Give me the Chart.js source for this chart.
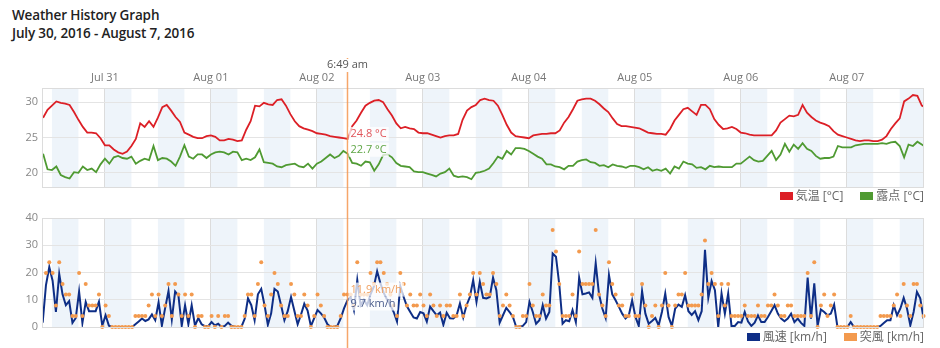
<!DOCTYPE html>
<html>
<head>
<meta charset="utf-8">
<script src="https://cdn.jsdelivr.net/npm/chart.js@4.4.1/dist/chart.umd.min.js"></script>
<style>
  body { margin: 0; width: 940px; height: 348px; overflow: hidden; background: #fff; position: relative;
         font-family: "Open Sans", "Noto Sans CJK JP", sans-serif; }
  .title { position: absolute; left: 12px; font-size: 13.5px; letter-spacing: -0.15px; font-weight: 600; line-height: 18px; color: #222; }
  #tempWrap { position: absolute; left: 0; top: 50px; width: 940px; height: 155px; }
  #windWrap { position: absolute; left: 0; top: 205px; width: 940px; height: 143px; }
  .legend { position: absolute; right: 16px; display: flex; font-size: 12px; color: #666; line-height: 14px; }
  .legend-item { display: flex; align-items: center; margin-left: 17px; }
  .legend-box { width: 13px; height: 8px; margin-right: 3px; }
</style>
</head>
<body>
<div class="title" style="top:6px">Weather History Graph</div>
<div class="title" style="top:24px">July 30, 2016 - August 7, 2016</div>
<div id="tempWrap"><canvas id="tempChart" width="940" height="155"></canvas></div>
<div id="windWrap"><canvas id="windChart" width="940" height="143"></canvas></div>
<div class="legend" id="tempLegend" style="top:189px"></div>
<div class="legend" id="windLegend" style="top:330px"></div>

<script>
// time axis: hours since Jul 30 00:00
const xMin = 9.75;
const xMax = 209.5;
const dayTicks = [24, 48, 72, 96, 120, 144, 168, 192];
const dayLabels = ["Jul 31", "Aug 01", "Aug 02", "Aug 03", "Aug 04", "Aug 05", "Aug 06", "Aug 07"];

const tempTicks = [20, 25, 30];
const windTicks = [0, 10, 20, 30, 40];

// hovered moment (Aug 02, 6:49 am)
const crossHour = 78.82;
const crossLabel = "6:49 am";

// temperature / dew point, hourly from hour 10
const tempStartHour = 10;
const tempStepHours = 1;
const temperature = [
  27.8, 28.9, 29.5, 30.1, 29.9, 29.8, 29.6, 28.6, 27.5, 26.5,
  25.7, 25.7, 25.6, 24.9, 23.9, 23.9, 23.3, 22.9, 22.7, 23.0,
  23.8, 24.8, 27.0, 26.5, 27.3, 26.5, 27.8, 29.3, 29.6, 28.8,
  27.9, 27.2, 25.7, 25.4, 25.1, 24.9, 24.9, 25.2, 25.3, 25.1,
  24.6, 24.6, 24.8, 24.7, 24.5, 24.6, 26.1, 27.3, 29.5, 29.4,
  29.9, 29.7, 29.6, 30.3, 30.4, 29.5, 28.3, 27.3, 26.6, 26.3,
  26.1, 25.9, 25.6, 25.5, 25.4, 25.2, 25.1, 25.0, 24.9, 24.8,
  26.6, 27.4, 28.5, 29.5, 29.9, 30.2, 30.3, 30.0, 29.0, 28.1,
  27.0, 26.3, 26.5, 26.3, 26.2, 25.7, 25.6, 25.6, 25.4, 25.2,
  25.0, 25.2, 25.3, 25.3, 25.5, 27.5, 28.8, 29.3, 29.6, 30.3,
  30.5, 30.3, 30.2, 29.5, 28.2, 26.8, 25.7, 25.2, 25.1, 25.0,
  24.9, 25.3, 25.4, 25.5, 25.5, 25.6, 25.6, 26.0, 27.1, 27.9,
  29.0, 30.2, 30.4, 30.5, 30.5, 30.2, 29.7, 29.1, 28.6, 27.7,
  26.9, 26.6, 26.6, 26.5, 26.4, 26.3, 26.0, 25.7, 25.6, 25.5,
  25.5, 25.4, 26.2, 27.4, 28.2, 29.0, 29.2, 28.7, 28.2, 29.6,
  29.6, 29.0, 27.6, 26.8, 26.2, 26.3, 26.5, 26.2, 25.7, 25.6,
  25.4, 25.3, 25.3, 25.3, 25.3, 25.3, 26.0, 27.1, 27.6, 28.1,
  28.0, 28.2, 29.6, 28.5, 27.9, 27.4, 27.1, 26.9, 26.6, 25.9,
  25.4, 25.2, 25.0, 24.8, 24.6, 24.5, 24.6, 24.6, 24.5, 24.5,
  24.7, 25.2, 26.2, 27.0, 27.7, 30.1, 30.5, 31.0, 30.9, 29.5,
  29.2
];
const dewPoint = [
  22.7, 20.5, 20.4, 20.9, 19.7, 19.4, 19.2, 20.1, 20.0, 20.9,
  20.4, 20.6, 20.1, 21.2, 22.0, 21.3, 22.2, 22.4, 22.1, 22.0,
  22.3, 21.3, 21.7, 22.0, 21.8, 23.8, 21.8, 22.1, 22.0, 21.6,
  21.0, 22.3, 23.9, 22.3, 22.0, 22.6, 22.6, 22.1, 22.6, 22.9,
  23.0, 22.9, 22.6, 23.0, 22.9, 21.8, 22.0, 21.8, 22.2, 23.3,
  21.5, 21.4, 21.3, 20.9, 20.8, 21.1, 21.2, 21.3, 20.9, 20.8,
  21.3, 20.6, 21.3, 21.6, 22.1, 22.6, 22.1, 22.4, 23.1, 22.7,
  21.4, 21.3, 21.0, 21.6, 21.5, 20.3, 21.2, 22.5, 22.6, 22.2,
  21.4, 21.0, 20.9, 20.8, 20.2, 20.1, 20.1, 19.9, 19.7, 19.5,
  19.9, 20.1, 20.6, 19.6, 19.4, 19.5, 19.4, 19.1, 20.0, 20.1,
  20.3, 20.6, 21.4, 22.3, 22.0, 23.1, 22.6, 23.5, 23.5, 23.4,
  23.1, 22.7, 22.3, 22.0, 21.2, 21.2, 20.9, 20.8, 20.5, 21.0,
  21.0, 21.6, 21.8, 21.9, 21.5, 21.4, 21.0, 21.1, 20.8, 21.2,
  21.0, 20.9, 20.7, 21.0, 21.0, 20.8, 20.5, 20.8, 20.3, 20.5,
  20.3, 20.6, 19.9, 20.9, 20.6, 21.6, 21.3, 21.2, 20.7, 20.8,
  20.5, 21.0, 20.8, 20.9, 20.8, 20.8, 20.8, 21.3, 21.3, 21.8,
  22.3, 21.8, 21.6, 21.7, 22.4, 23.1, 21.8, 22.6, 24.1, 23.0,
  24.0, 23.4, 24.2, 23.4, 23.1, 22.4, 22.0, 22.1, 22.1, 22.3,
  23.8, 23.6, 23.6, 23.6, 23.9, 24.0, 24.1, 24.1, 24.1, 24.1,
  24.2, 24.1, 24.3, 24.4, 23.8, 22.2, 24.0, 23.8, 24.4, 24.0,
  23.6
];

// wind speed / gust, every 45 minutes from hour 9.9
const windStartHour = 9.9;
const windStepHours = 0.75;
const windSpeed = [
  1.6, 15.4, 22.0, 17.0, 5.5, 19.5, 12.0, 8.0, 9.5, 1.5,
  3.3, 13.0, 1.5, 9.2, 5.8, 5.8, 5.8, 9.3, 0.5, 4.3,
  0.5, 0, 0, 0, 0, 0, 0, 0, 1.0, 2.0,
  3.1, 2.2, 2.8, 4.6, 2.5, 9.0, 0.5, 7.0, 13.2, 2.8,
  13.0, 11.5, 0.5, 8.0, 1.0, 8.0, 0.5, 3.3, 1.0, 0.3,
  0.3, 1.8, 0.6, 1.2, 0, 0.4, 1.6, 0.5, 0, 0,
  0, 3.0, 10.5, 8.0, 2.5, 12.0, 14.0, 8.0, 0.8, 5.0,
  14.0, 13.0, 8.0, 2.5, 5.8, 11.0, 6.0, 1.0, 4.5, 8.5,
  6.0, 0.3, 3.3, 6.2, 5.0, 3.5, 1.0, 0, 0, 0.5,
  3.2, 6.8, 9.7, 11.0, 6.2, 17.2, 8.0, 10.0, 8.0, 12.0,
  14.8, 20.5, 16.0, 12.5, 10.0, 8.0, 5.5, 2.0, 15.0, 11.0,
  7.6, 5.5, 3.5, 3.1, 5.5, 5.0, 2.0, 7.5, 5.8, 4.3,
  5.3, 0.8, 5.2, 3.2, 3.1, 4.2, 8.6, 3.5, 8.0, 11.0,
  17.2, 9.2, 16.6, 10.7, 10.5, 11.0, 18.1, 13.5, 1.6, 4.3,
  7.0, 5.5, 3.7, 0, 0.2, 0.4, 1.8, 9.2, 5.5, 1.2,
  2.5, 8.0, 3.1, 5.5, 27.0, 25.8, 15.6, 1.2, 2.5, 2.1,
  6.2, 1.8, 18.1, 12.0, 12.3, 12.7, 10.7, 23.4, 12.0, 6.8,
  3.3, 19.1, 12.0, 9.8, 7.4, 4.9, 3.1, 4.3, 9.8, 3.7,
  0.4, 13.2, 4.9, 1.2, 2.2, 3.3, 0.6, 5.5, 12.3, 3.7,
  0.4, 6.8, 8.2, 7.4, 11.7, 5.8, 4.4, 5.8, 2.5, 5.8,
  28.3, 10.7, 16.9, 13.5, 0, 12.3, 4.9, 12.3, 0.4, 0.4,
  1.8, 1.6, 5.5, 2.0, 0.4, 1.6, 4.3, 1.8, 1.8, 3.7,
  5.8, 8.0, 4.9, 3.1, 2.1, 3.1, 4.9, 1.8, 3.1, 1.5,
  0.4, 18.1, 3.1, 16.0, 0.4, 6.4, 5.5, 4.3, 4.9, 8.2,
  0, 0, 0, 0, 1.8, 0, 0, 0, 0, 0,
  0, 0, 0, 0.4, 1.5, 2.5, 2.5, 8.0, 4.3, 6.8,
  10.7, 6.8, 0.6, 5.5, 12.9, 10.5, 3.1
];
const windGust = [
  null, 19.8, 23.8, 19.8, 7.9, 23.8, 15.8, 11.9, 11.9, 4.0,
  4.0, 19.8, 4.0, 15.8, 7.9, 7.9, 7.9, 11.9, 0, 7.9,
  4.0, 0, 0, 0, 0, 0, 0, 0, 4.0, 4.0,
  4.0, 4.0, 7.9, 11.9, 4.0, 11.9, 4.0, 7.9, 15.8, 4.0,
  15.8, 11.9, 4.0, 11.9, 4.0, 11.9, 0, 4.0, 4.0, 0,
  0, 4.0, 0, 4.0, 0, 4.0, 4.0, 0, 0, 0,
  0, 4.0, 11.9, 11.9, 4.0, 15.8, 23.8, 7.9, 4.0, 11.9,
  19.8, 15.8, 7.9, 4.0, 4.0, 15.8, 11.9, 4.0, 4.0, 11.9,
  7.9, 0, 4.0, 11.9, 7.9, 4.0, 0, 0, 0, 0,
  4.0, 11.9, 11.9, 11.9, 7.9, 23.8, 11.9, 11.9, 11.9, 19.8,
  15.8, 23.8, 23.8, 19.8, 15.8, 11.9, 7.9, 4.0, 19.8, 15.8,
  7.9, 11.9, 7.9, 7.9, 11.9, 7.9, 4.0, 11.9, 7.9, 4.0,
  7.9, 4.0, 7.9, 7.9, 4.0, 4.0, 11.9, 4.0, 7.9, 11.9,
  19.8, 11.9, 19.8, 15.8, 11.9, 11.9, 19.8, 15.8, 4.0, 7.9,
  11.9, 7.9, 4.0, 0, 0, 4.0, 4.0, 15.8, 7.9, 4.0,
  4.0, 11.9, 7.9, 7.9, 35.6, 27.7, 15.8, 4.0, 4.0, 4.0,
  11.9, 4.0, 27.7, 15.8, 15.8, 15.8, 15.8, 35.6, 11.9, 7.9,
  4.0, 23.8, 15.8, 11.9, 7.9, 7.9, 4.0, 4.0, 11.9, 4.0,
  4.0, 15.8, 7.9, 0, 4.0, 7.9, 0, 7.9, 19.8, 7.9,
  0, 7.9, 11.9, 11.9, 19.8, 7.9, 7.9, 7.9, 7.9, 11.9,
  31.7, 15.8, 19.8, 15.8, 4.0, 15.8, 7.9, 15.8, 4.0, 4.0,
  4.0, 4.0, 7.9, 4.0, 4.0, 4.0, 7.9, 4.0, 4.0, 7.9,
  7.9, 11.9, 7.9, 4.0, 4.0, 7.9, 7.9, 4.0, 4.0, 4.0,
  4.0, 19.8, 4.0, 23.8, 0, 7.9, 11.9, 4.0, 7.9, 11.9,
  0, 0, 0, 0, 4.0, 0, 0, 0, 0, 0,
  0, 0, 0, 4.0, 4.0, 4.0, 4.0, 7.9, 11.9, 4.0,
  15.8, 7.9, 4.0, 15.8, 15.8, 7.9, 4.0
];

const tempColor = "#dc1f26";
const dewColor = "#4f9a32";
const windColor = "#0e2e86";
const gustColor = "#f39a4e";
const crossColor = "rgba(245, 150, 80, 0.85)";
const fontFamily = "'Open Sans', 'Noto Sans CJK JP', sans-serif";

function toPoints(values, start, step) {
  return values.map((v, i) => ({ x: start + i * step, y: v }));
}

// light blue bands, 00-06 and 12-18 each day
const bandPlugin = {
  id: "bands",
  beforeDraw(chart) {
    const { ctx, chartArea: a, scales: { x } } = chart;
    ctx.save();
    ctx.fillStyle = "#eef4fa";
    for (let h = 0; h < 216; h += 12) {
      const x0 = Math.max(x.getPixelForValue(h), a.left);
      const x1 = Math.min(x.getPixelForValue(h + 6), a.right);
      if (x1 > x0) ctx.fillRect(x0, a.top, x1 - x0, a.bottom - a.top);
    }
    ctx.restore();
  }
};

// chart frame + hover crosshair with value labels
const hoverPlugin = {
  id: "hover",
  afterDraw(chart, args, opts) {
    const { ctx, chartArea: a, scales: { x, y } } = chart;
    ctx.save();
    ctx.strokeStyle = "#dcdcdc";
    ctx.lineWidth = 1;
    ctx.strokeRect(a.left + 0.5, a.top + 0.5, a.right - a.left - 1, a.bottom - a.top);

    const cx = Math.round(x.getPixelForValue(crossHour)) + 0.5;
    ctx.strokeStyle = crossColor;
    ctx.lineWidth = 1.5;
    ctx.beginPath();
    ctx.moveTo(cx, opts.lineTop);
    ctx.lineTo(cx, chart.height);
    ctx.stroke();

    ctx.font = "11px " + fontFamily;
    ctx.textBaseline = "middle";
    if (opts.timeLabel) {
      const w = ctx.measureText(crossLabel).width;
      ctx.fillStyle = "#fff";
      ctx.fillRect(cx - w / 2 - 2, opts.lineTop + 1, w + 4, 13);
      ctx.fillStyle = "#555";
      ctx.textAlign = "center";
      ctx.fillText(crossLabel, cx, opts.lineTop + 7);
    }
    ctx.textAlign = "left";
    opts.labels.forEach(lab => {
      const ds = chart.data.datasets[lab.dataset];
      const idx = Math.round((crossHour - lab.start) / lab.step);
      const text = ds.data[idx].y.toFixed(1) + lab.unit;
      const ty = y.getPixelForValue(ds.data[idx].y) + lab.dy;
      const w = ctx.measureText(text).width;
      ctx.fillStyle = "rgba(255,255,255,0.75)";
      ctx.fillRect(cx + 1, ty - 7, w + 4, 14);
      ctx.fillStyle = lab.color;
      ctx.fillText(text, cx + 3, ty);
    });
    ctx.restore();
  }
};

function xAxis(showLabels) {
  return {
    type: "linear",
    position: showLabels ? "top" : "bottom",
    min: xMin,
    max: xMax,
    afterBuildTicks: axis => { axis.ticks = dayTicks.map(v => ({ value: v })); },
    afterFit: axis => { axis.height = showLabels ? 38 : 0; },
    grid: { color: "#dcdcdc", drawTicks: false },
    border: { display: false },
    ticks: {
      display: showLabels,
      autoSkip: false,
      maxRotation: 0,
      padding: 4,
      color: "#777",
      font: { family: fontFamily, size: 11 },
      callback: (value, index) => dayLabels[index]
    }
  };
}

function yAxis(min, max, tickValues) {
  return {
    min: min,
    max: max,
    afterBuildTicks: axis => { axis.ticks = tickValues.map(v => ({ value: v })); },
    afterFit: axis => { axis.width = 42; },
    grid: { color: "#e4e4e4", drawTicks: false },
    border: { display: false },
    ticks: { padding: 4, color: "#888", font: { family: fontFamily, size: 11 } }
  };
}

const tempChart = new Chart(document.getElementById("tempChart"), {
  type: "line",
  data: {
    datasets: [
      { label: "気温 [°C]", data: toPoints(temperature, tempStartHour, tempStepHours),
        borderColor: tempColor, backgroundColor: tempColor, borderWidth: 1.8, pointRadius: 0 },
      { label: "露点 [°C]", data: toPoints(dewPoint, tempStartHour, tempStepHours),
        borderColor: dewColor, backgroundColor: dewColor, borderWidth: 1.8, pointRadius: 0 }
    ]
  },
  options: {
    responsive: false,
    animation: false,
    devicePixelRatio: 1,
    layout: { padding: { left: 0, right: 16, top: 0, bottom: 18 } },
    plugins: {
      legend: { display: false },
      tooltip: { enabled: false },
      hover: {
        lineTop: 8,
        timeLabel: true,
        labels: [
          { dataset: 0, start: tempStartHour, step: tempStepHours, unit: " °C", color: "#e0555a", dy: -5 },
          { dataset: 1, start: tempStartHour, step: tempStepHours, unit: " °C", color: "#5ea544", dy: -4 }
        ]
      }
    },
    scales: { x: xAxis(true), y: yAxis(18, 32, tempTicks) }
  },
  plugins: [bandPlugin, hoverPlugin]
});

const windChart = new Chart(document.getElementById("windChart"), {
  type: "line",
  data: {
    datasets: [
      { label: "突風 [km/h]", data: toPoints(windGust, windStartHour, windStepHours),
        showLine: false, pointRadius: 2, pointBorderWidth: 0,
        pointBackgroundColor: gustColor, backgroundColor: gustColor, borderColor: gustColor, clip: 4 },
      { label: "風速 [km/h]", data: toPoints(windSpeed, windStartHour, windStepHours),
        borderColor: windColor, backgroundColor: windColor, borderWidth: 2, pointRadius: 0 }
    ]
  },
  options: {
    responsive: false,
    animation: false,
    devicePixelRatio: 1,
    layout: { padding: { left: 0, right: 16, top: 13, bottom: 21 } },
    plugins: {
      legend: { display: false },
      tooltip: { enabled: false },
      hover: {
        lineTop: 0,
        timeLabel: false,
        labels: [
          { dataset: 0, start: windStartHour, step: windStepHours, unit: " km/h", color: "#f0a060", dy: -5 },
          { dataset: 1, start: windStartHour, step: windStepHours, unit: " km/h", color: "#4a5c8c", dy: 3 }
        ]
      }
    },
    scales: { x: xAxis(false), y: yAxis(0, 40, windTicks) }
  },
  plugins: [bandPlugin, hoverPlugin]
});

// custom HTML legends, in the order shown on the page
function renderLegend(containerId, chart, order) {
  const container = document.getElementById(containerId);
  container.innerHTML = "";
  order.forEach(i => {
    const ds = chart.data.datasets[i];
    const item = document.createElement("span");
    item.className = "legend-item";
    item.innerHTML = `<span class="legend-box" style="background:${ds.backgroundColor}"></span>${ds.label}`;
    container.appendChild(item);
  });
}
renderLegend("tempLegend", tempChart, [0, 1]);
renderLegend("windLegend", windChart, [1, 0]);
</script>
</body>
</html>
